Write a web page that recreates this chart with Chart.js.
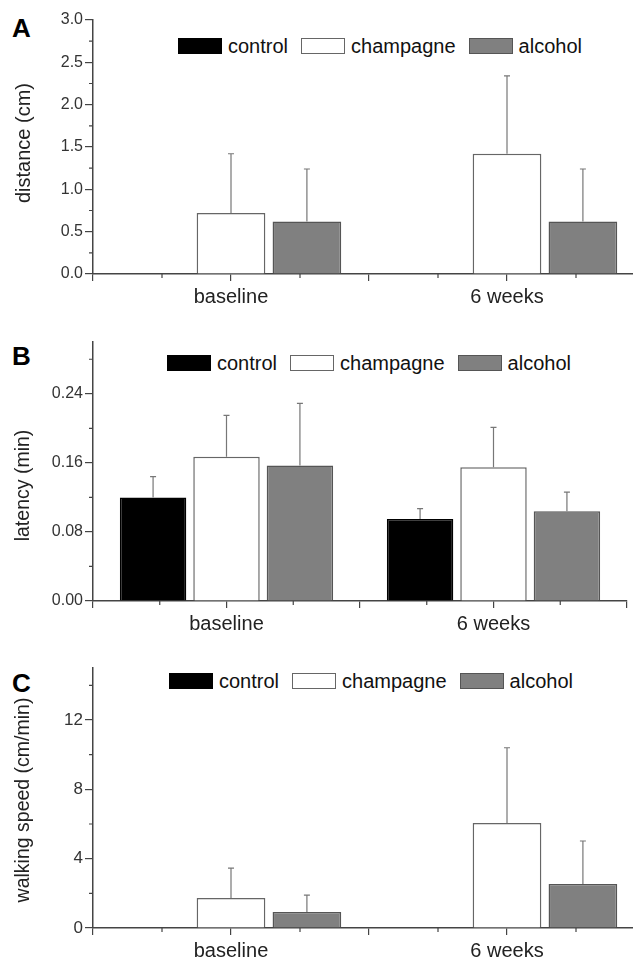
<!DOCTYPE html>
<html>
<head>
<meta charset="utf-8">
<script src="https://cdn.jsdelivr.net/npm/chart.js@4.4.1/dist/chart.umd.min.js"></script>
<style>
  html, body { margin: 0; padding: 0; background: #fff; }
  body { width: 633px; height: 960px; position: relative; overflow: hidden;
         font-family: "Liberation Sans", Arial, sans-serif; color: #111; }
  canvas { position: absolute; left: 0; }
  .letter { position: absolute; left: 12px; font-size: 26px; font-weight: bold; line-height: 26px; color: #000; }
  .legend { position: absolute; display: flex; align-items: center; height: 20px; font-size: 20px; line-height: 20px; color: #111; }
  .legend .box { width: 44px; height: 16px; box-sizing: border-box; margin-right: 6px; }
  .legend .txt { margin-right: 13px; }
</style>
</head>
<body>
<div class="letter" style="top:15px">A</div>
<div class="letter" style="top:343px">B</div>
<div class="letter" style="top:670px">C</div>

<div class="legend" id="legA" style="left:178px; top:36px"></div>
<div class="legend" id="legB" style="left:167px; top:353px"></div>
<div class="legend" id="legC" style="left:169px; top:671px"></div>

<canvas id="chartA" width="633" height="320" style="top:0px"></canvas>
<canvas id="chartB" width="633" height="330" style="top:310px"></canvas>
<canvas id="chartC" width="633" height="330" style="top:630px"></canvas>

<script>
// categories and groups
const categories = ['baseline', '6 weeks'];
const groups = ['control', 'champagne', 'alcohol'];

// A: distance (cm), mean and SD
const distControl = [0, 0];
const distChampagne = [0.72, 1.42];
const distAlcohol = [0.62, 0.62];
const distControlSd = [0, 0];
const distChampagneSd = [0.70, 0.92];
const distAlcoholSd = [0.62, 0.62];

// B: latency (min)
const latControl = [0.120, 0.095];
const latChampagne = [0.167, 0.155];
const latAlcohol = [0.157, 0.104];
const latControlSd = [0.024, 0.012];
const latChampagneSd = [0.048, 0.046];
const latAlcoholSd = [0.072, 0.022];

// C: walking speed (cm/min)
const speedControl = [0, 0];
const speedChampagne = [1.73, 6.06];
const speedAlcohol = [0.92, 2.54];
const speedControlSd = [0, 0];
const speedChampagneSd = [1.73, 4.34];
const speedAlcoholSd = [0.98, 2.48];

// y axis ranges and tick steps
const distTicks = [0, 3, 0.5];
const latTicks = [0, 0.30, 0.08];
const speedTicks = [0, 15, 4];

const fills = ['#000000', '#ffffff', '#808080'];
const borders = ['#000000', '#666666', '#555555'];

Chart.defaults.font.family = '"Liberation Sans", Arial, sans-serif';

// little error bars drawn upward from each bar top
const errorBars = {
  id: 'errorBars',
  afterDatasetsDraw(chart) {
    const ctx = chart.ctx;
    const y = chart.scales.y;
    chart.data.datasets.forEach((ds, i) => {
      const meta = chart.getDatasetMeta(i);
      meta.data.forEach((bar, j) => {
        const e = ds.errors[j];
        if (!e) return;
        const top = y.getPixelForValue(ds.data[j].y + e);
        ctx.save();
        ctx.strokeStyle = '#777';
        ctx.lineWidth = 1.2;
        ctx.beginPath();
        ctx.moveTo(bar.x, bar.y);
        ctx.lineTo(bar.x, top);
        ctx.moveTo(bar.x - 3, top);
        ctx.lineTo(bar.x + 3, top);
        ctx.stroke();
        ctx.restore();
      });
    });
  }
};

// short minor ticks between the major ones
const minorTicks = {
  id: 'minorTicks',
  afterDraw(chart, args, opts) {
    const {x, y} = chart.scales;
    const ctx = chart.ctx;
    ctx.save();
    ctx.strokeStyle = '#444';
    ctx.lineWidth = 1.2;
    ctx.beginPath();
    for (let v = opts.yStep / 2; v < y.max - 1e-9; v += opts.yStep) {
      const py = y.getPixelForValue(v);
      ctx.moveTo(y.right - 4, py);
      ctx.lineTo(y.right, py);
    }
    for (let v = 0.5; v < x.max; v += 1) {
      const px = x.getPixelForValue(v);
      ctx.moveTo(px, x.top);
      ctx.lineTo(px, x.top + 4);
    }
    ctx.stroke();
    ctx.restore();
  }
};

// y axis title, rotated, a bit off centre like the original
const yTitle = {
  id: 'yTitle',
  afterDraw(chart, args, opts) {
    const ctx = chart.ctx;
    const a = chart.chartArea;
    ctx.save();
    ctx.translate(24, (a.top + a.bottom) / 2 + opts.shift);
    ctx.rotate(-Math.PI / 2);
    ctx.font = opts.size + 'px "Liberation Sans", Arial, sans-serif';
    ctx.fillStyle = '#222';
    ctx.textAlign = 'center';
    ctx.textBaseline = 'middle';
    ctx.fillText(opts.text, 0, 0);
    ctx.restore();
  }
};

function makeLegend(id) {
  const el = document.getElementById(id);
  groups.forEach((g, i) => {
    const box = document.createElement('span');
    box.className = 'box';
    box.style.background = fills[i];
    box.style.border = '1px solid ' + borders[i];
    const t = document.createElement('span');
    t.className = 'txt';
    t.textContent = g;
    el.appendChild(box);
    el.appendChild(t);
  });
}

function makePanel(id, means, sds, ticks, title, decimals, p) {
  const datasets = groups.map((g, i) => ({
    label: g,
    data: categories.map((c, j) => ({x: 1 + 2 * j, y: means[i][j]})),
    errors: sds[i],
    backgroundColor: fills[i],
    borderColor: borders[i],
    borderWidth: 1.5,
    inflateAmount: 0,
    categoryPercentage: 1.65,
    barPercentage: 0.905
  }));

  new Chart(document.getElementById(id), {
    type: 'bar',
    data: {datasets: datasets},
    options: {
      responsive: false,
      animation: false,
      layout: {padding: {top: p.top, right: p.right, left: 0, bottom: 0}},
      plugins: {
        legend: {display: false},
        tooltip: {enabled: false},
        minorTicks: {yStep: ticks[2]},
        yTitle: {text: title, size: p.titleSize, shift: p.titleShift}
      },
      scales: {
        x: {
          type: 'linear',
          min: 0,
          max: p.xMax,
          offset: false,
          grid: {offset: false, drawOnChartArea: false, tickLength: 7, color: '#444', lineWidth: 1.2},
          border: {color: '#444', width: 1.5},
          ticks: {
            stepSize: 1, includeBounds: false, autoSkip: false, maxRotation: 0,
            padding: 4, color: '#222', font: {size: 20},
            callback: v => {
              const k = (v - 1) / 2;
              return Number.isInteger(k) && categories[k] ? categories[k] : '';
            }
          },
          afterFit: s => { s.height = p.xHeight; }
        },
        y: {
          min: ticks[0],
          max: ticks[1],
          grid: {drawOnChartArea: false, tickLength: 8, color: '#444', lineWidth: 1.2},
          border: {color: '#444', width: 1.5},
          ticks: {
            stepSize: ticks[2], includeBounds: false, padding: 2, color: '#333',
            font: {size: p.tickSize},
            callback: v => v.toFixed(decimals)
          },
          afterFit: s => { s.width = 93; }
        }
      }
    },
    plugins: [errorBars, minorTicks, yTitle]
  });
}

makeLegend('legA');
makeLegend('legB');
makeLegend('legC');

makePanel('chartA',
  [distControl, distChampagne, distAlcohol],
  [distControlSd, distChampagneSd, distAlcoholSd],
  distTicks, 'distance (cm)', 1,
  {top: 20, right: 0, xMax: 3.913, xHeight: 46, tickSize: 16, titleSize: 20, titleShift: -4});

makePanel('chartB',
  [latControl, latChampagne, latAlcohol],
  [latControlSd, latChampagneSd, latAlcoholSd],
  latTicks, 'latency (min)', 2,
  {top: 32, right: 6, xMax: 4, xHeight: 39, tickSize: 16, titleSize: 19.5, titleShift: 14});

makePanel('chartC',
  [speedControl, speedChampagne, speedAlcohol],
  [speedControlSd, speedChampagneSd, speedAlcoholSd],
  speedTicks, 'walking speed (cm/min)', 0,
  {top: 38, right: 0, xMax: 3.913, xHeight: 32, tickSize: 17, titleSize: 19.5, titleShift: 2});
</script>
</body>
</html>
